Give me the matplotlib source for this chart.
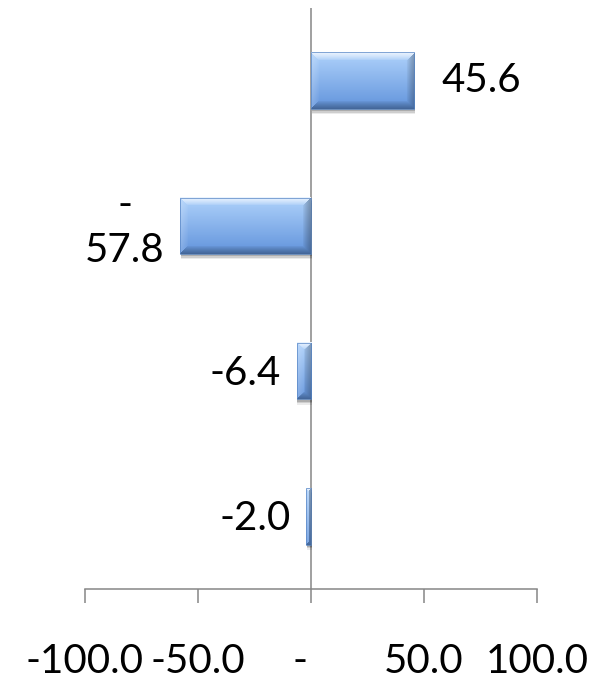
import numpy as np
import matplotlib.pyplot as plt
from matplotlib.colors import to_rgb

# bars listed bottom to top
values = [-2.0, -6.4, -57.8, 45.6]
value_labels = ['-2.0', '-6.4', '-\n57.8', '45.6']
x_ticks = [-100, -50, 0, 50, 100]
x_tick_labels = ['-100.0', '-50.0', '-  ', '50.0', '100.0']

plt.rcParams['font.family'] = ['Lato', 'DejaVu Sans']
axis_grey = '#868686'

fig = plt.figure(figsize=(6.09, 6.84), dpi=100)
ax = fig.add_axes([85 / 609, 95 / 684, 452 / 609, 581 / 684])

pos = np.arange(len(values))
bars = ax.barh(pos, values, height=0.39, color='none', edgecolor='none', zorder=2)
ax.set_xlim(-100, 100)
ax.set_ylim(-0.5, 3.5)

for s in ['left', 'right', 'top']:
    ax.spines[s].set_visible(False)
ax.spines['bottom'].set_color(axis_grey)
ax.spines['bottom'].set_linewidth(1.1)
ax.axvline(0, color=axis_grey, lw=1.1, zorder=1)
ax.set_yticks([])
ax.set_xticks(x_ticks)
ax.set_xticklabels(x_tick_labels)
ax.tick_params(axis='x', direction='out', length=10, width=1.1, color=axis_grey,
               pad=29, labelsize=29, labelcolor='black')

# bevelled gradient fill for each bar
top_c = np.array(to_rgb('#afd2fb'))
bot_c = np.array(to_rgb('#6294dc'))
fig.canvas.draw()
for rect in bars:
    x0, y0 = rect.get_x(), rect.get_y()
    w, h = rect.get_width(), rect.get_height()
    (px0, py0), (px1, py1) = ax.transData.transform([(x0, y0), (x0 + w, y0 + h)])
    wp = max(int(round(abs(px1 - px0))), 2)
    hp = max(int(round(abs(py1 - py0))), 2)
    t = np.linspace(0, 1, hp)[:, None, None]
    img = top_c * (1 - t) + bot_c * t
    img = np.repeat(img, wp, axis=1)
    yy, xx = np.mgrid[0:hp, 0:wp]
    d_top, d_bot = yy, hp - 1 - yy
    d_left, d_right = xx, wp - 1 - xx
    dist = np.stack([d_top, d_bot, d_left, d_right])
    nearest = dist.argmin(axis=0)
    dmin = dist.min(axis=0)
    bevel = 8.0
    f = np.clip(1 - dmin / bevel, 0, 1)[..., None] ** 0.8
    shade = np.array([0.75, -0.3, 0.2, -0.28])[nearest][..., None]
    light = np.where(shade > 0, img + (1 - img) * shade * f, img * (1 + shade * f))
    img = np.clip(light, 0, 1)
    xl, xr = min(x0, x0 + w), max(x0, x0 + w)
    # soft shadow below the bar
    for k, a in [(0.035, 0.08), (0.025, 0.12), (0.015, 0.16)]:
        ax.add_patch(plt.Rectangle((xl + 0.3, y0 - k), xr - xl + 0.3, h, color='#000000',
                                   alpha=a, lw=0, zorder=1.5))
    ax.imshow(img, extent=[xl, xr, y0, y0 + h], aspect='auto', zorder=2,
              interpolation='bilinear')
    ax.add_patch(plt.Rectangle((xl, y0), xr - xl, h, fill=False,
                               edgecolor='#5584c4', lw=0.5, zorder=2.5))

ax.set_xlim(-100, 100)
ax.set_ylim(-0.5, 3.5)

for rect, v, lab in zip(bars, values, value_labels):
    yc = rect.get_y() + rect.get_height() / 2
    if v >= 0:
        ax.annotate(lab, (v, yc), xytext=(27, 0), textcoords='offset pixels',
                    ha='left', va='center', fontsize=29)
    else:
        ax.annotate(lab, (v, yc), xytext=(-16, -2), textcoords='offset pixels',
                    ha='right', va='center', fontsize=29, multialignment='center',
                    linespacing=1.25)

fig.savefig('out.png', dpi=100)
